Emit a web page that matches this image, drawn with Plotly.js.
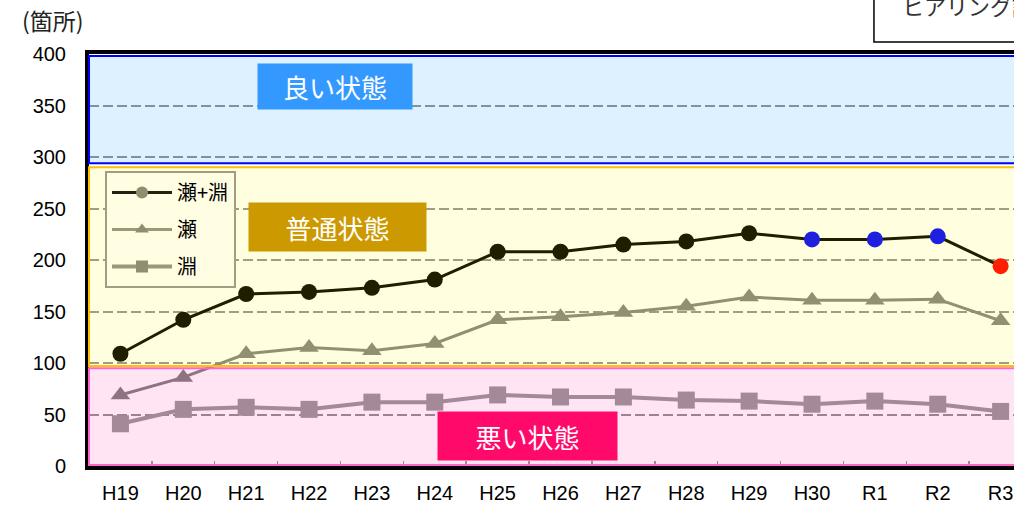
<!DOCTYPE html>
<html>
<head>
<meta charset="utf-8">
<script src="https://cdn.plot.ly/plotly-3.0.1.min.js"></script>
<style>
  html, body { margin: 0; padding: 0; overflow: hidden; background: #fff; }
  #chart { width: 1014px; height: 505px; }
</style>
</head>
<body>
<div id="chart"></div>
<script>
// Fiscal years (Heisei / Reiwa)
const years = ['H19','H20','H21','H22','H23','H24','H25','H26','H27','H28','H29','H30','R1','R2','R3'];

// Number of sites
const total = [109, 142, 167, 169, 173, 181, 208, 208, 215, 218, 226, 220, 220, 223, 194]; // 瀬+淵
const riffle = [69, 86, 109, 115, 112, 119, 142, 145, 149, 155, 164, 161, 161, 162, 141]; // 瀬
const pool = [41, 55, 57, 55, 62, 62, 69, 67, 67, 64, 63, 60, 63, 60, 53];               // 淵

// Point colours of the total line (recent years highlighted)
const totalPointColors = ['#000','#000','#000','#000','#000','#000','#000','#000','#000','#000','#000',
                          '#0000ff','#0000ff','#0000ff','#ff0000'];

// Condition bands
const bandGood = [294, 398];
const bandNormal = [97, 290];
const bandBad = [1, 95];

const CJK = '"Noto Sans CJK JP", "Noto Sans", sans-serif';
const LAT = '"Liberation Sans", Arial, sans-serif';

const traces = [
  {
    x: years, y: total, type: 'scatter', mode: 'lines+markers', showlegend: false, cliponaxis: true,
    line: { color: '#000000', width: 3 },
    marker: { symbol: 'circle', size: 16, color: totalPointColors }
  },
  {
    x: years, y: riffle, type: 'scatter', mode: 'lines+markers', showlegend: false, cliponaxis: true,
    line: { color: '#828282', width: 3 },
    marker: { symbol: 'triangle-up', size: 17, color: '#828282' }
  },
  {
    x: years, y: pool, type: 'scatter', mode: 'lines+markers', showlegend: false, cliponaxis: true,
    line: { color: '#9a9a9a', width: 4 },
    marker: { symbol: 'square', size: 17, color: '#9a9a9a' }
  },
  // legend keys
  { x: [null], y: [null], type: 'scatter', mode: 'lines+markers', name: '瀬+淵', legendgroup: 'a',
    line: { color: '#222210', width: 3 }, marker: { symbol: 'circle', size: 12, color: '#8f8f6f' } },
  { x: [null], y: [null], type: 'scatter', mode: 'lines+markers', name: '瀬', legendgroup: 'b',
    line: { color: '#9a9a7a', width: 3 }, marker: { symbol: 'triangle-up', size: 12, color: '#8f8f6f' } },
  { x: [null], y: [null], type: 'scatter', mode: 'lines+markers', name: '淵', legendgroup: 'c',
    line: { color: '#9a9a7a', width: 4 }, marker: { symbol: 'square', size: 12, color: '#8f8f6f' } }
];

function band(range, fill, lineColor) {
  return {
    type: 'rect', layer: 'above', xref: 'paper', yref: 'y',
    x0: 0, x1: 1.05, y0: range[0], y1: range[1],
    fillcolor: fill, line: { color: lineColor, width: 2 }
  };
}

function bandLabel(text, xp, yp, w, h, bg) {
  return {
    xref: 'paper', yref: 'paper', x: xp, y: yp, xanchor: 'center', yanchor: 'middle',
    text: text, showarrow: false, width: w, height: h, borderpad: 0,
    bgcolor: bg, font: { family: CJK, size: 26, color: '#ffffff' }
  };
}

const layout = {
  width: 1014, height: 505,
  margin: { l: 89, r: 0, t: 54, b: 39 },
  paper_bgcolor: '#ffffff', plot_bgcolor: '#ffffff',
  font: { family: LAT, size: 20, color: '#000' },
  xaxis: {
    type: 'category', categoryorder: 'array', categoryarray: years,
    range: [-0.5, 14.213], showgrid: false, zeroline: false,
    showline: true, linecolor: '#000', linewidth: 4, mirror: true,
    ticks: 'inside', tickson: 'boundaries', ticklen: 5, tickwidth: 1.5, tickcolor: '#999',
    tickfont: { family: LAT, size: 20, color: '#000' }, ticklabelstandoff: 6
  },
  yaxis: {
    range: [0, 400], dtick: 50, tick0: 0, zeroline: false,
    showgrid: true, gridcolor: '#929292', gridwidth: 2, griddash: '10px,4px',
    showline: true, linecolor: '#000', linewidth: 4, mirror: false,
    ticks: '', tickfont: { family: LAT, size: 20, color: '#000' }, ticklabelstandoff: 15
  },
  legend: {
    x: 0.0173, y: 0.716, xanchor: 'left', yanchor: 'top',
    bgcolor: '#fffde2', bordercolor: '#a0a080', borderwidth: 2,
    font: { family: CJK, size: 20, color: '#000' },
    itemwidth: 60, tracegroupgap: 8
  },
  shapes: [
    band(bandGood, 'rgba(0,150,255,0.13)', '#0000ff'),
    band(bandNormal, 'rgba(255,255,0,0.12)', '#ffc000'),
    band(bandBad, 'rgba(255,0,140,0.10)', '#ff66cc'),
    { type: 'rect', layer: 'above', xref: 'paper', yref: 'paper',
      x0: 0.8486, x1: 1.2, y0: 1.029, y1: 1.2, fillcolor: '#ffffff',
      line: { color: '#000', width: 1.5 } }
  ],
  annotations: [
    bandLabel('良い状態', 0.266, 0.921, 154, 45, '#3399ff'),
    bandLabel('普通状態', 0.2686, 0.580, 177, 48, '#cc9900'),
    bandLabel('悪い状態', 0.474, 0.073, 179, 48, '#ff0a6a'),
    { xref: 'paper', yref: 'paper', x: -0.0746, y: 1.0825, xanchor: 'left', yanchor: 'middle',
      text: '(箇所)', showarrow: false, font: { family: CJK, size: 23, color: '#222' } },
    { xref: 'paper', yref: 'paper', x: 0.877, y: 1.119, xanchor: 'left', yanchor: 'middle',
      text: 'ヒアリング調査', showarrow: false, font: { family: CJK, size: 22, color: '#333' } }
  ]
};

Plotly.newPlot('chart', traces, layout, { displayModeBar: false, staticPlot: true });
</script>
</body>
</html>
